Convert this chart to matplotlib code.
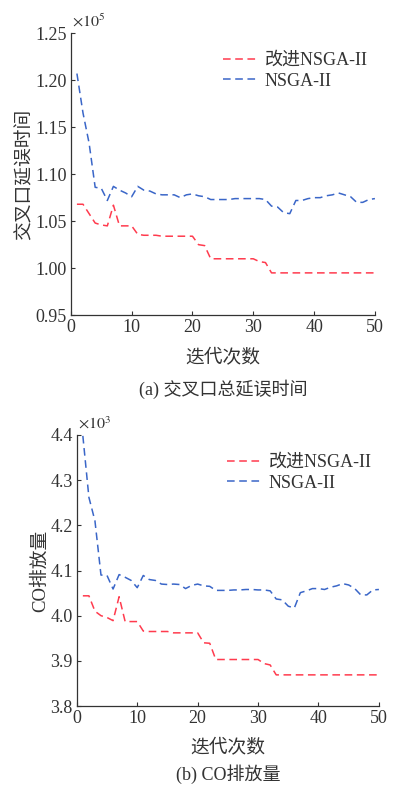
import matplotlib.pyplot as plt

plt.rcParams['font.family'] = ['Liberation Serif', 'Noto Sans CJK SC']
plt.rcParams['mathtext.fontset'] = 'stix'

iters = list(range(1, 51))

# 交叉口总延误时间 (x1e5)
delay_improved = [1.068, 1.068, 1.058, 1.048, 1.046, 1.045, 1.067, 1.045, 1.045, 1.045,
                  1.036, 1.035, 1.035, 1.035, 1.034, 1.034, 1.034, 1.034, 1.034, 1.034,
                  1.025, 1.024, 1.010, 1.010, 1.010, 1.010, 1.010, 1.010, 1.010, 1.010,
                  1.007, 1.006, 0.995, 0.995, 0.995, 0.995, 0.995, 0.995, 0.995, 0.995,
                  0.995, 0.995, 0.995, 0.995, 0.995, 0.995, 0.995, 0.995, 0.995, 0.995]
delay_nsga = [1.207, 1.165, 1.133, 1.086, 1.085, 1.072, 1.087, 1.083, 1.080, 1.076,
              1.087, 1.083, 1.082, 1.079, 1.078, 1.078, 1.078, 1.075, 1.078, 1.079,
              1.077, 1.076, 1.073, 1.073, 1.073, 1.073, 1.074, 1.074, 1.074, 1.074,
              1.074, 1.073, 1.066, 1.065, 1.059, 1.058, 1.072, 1.072, 1.074, 1.075,
              1.075, 1.077, 1.078, 1.080, 1.078, 1.076, 1.070, 1.070, 1.073, 1.074]

# CO排放量 (x1e3)
co_improved = [4.044, 4.044, 4.010, 4.000, 3.996, 3.989, 4.042, 3.987, 3.987, 3.987,
               3.966, 3.965, 3.965, 3.965, 3.965, 3.962, 3.962, 3.962, 3.962, 3.962,
               3.940, 3.939, 3.903, 3.903, 3.903, 3.903, 3.903, 3.903, 3.903, 3.903,
               3.894, 3.891, 3.869, 3.869, 3.869, 3.869, 3.869, 3.869, 3.869, 3.869,
               3.869, 3.869, 3.869, 3.869, 3.869, 3.869, 3.869, 3.869, 3.869, 3.869]
co_nsga = [4.398, 4.262, 4.210, 4.090, 4.089, 4.059, 4.091, 4.085, 4.078, 4.062,
           4.089, 4.080, 4.078, 4.070, 4.069, 4.070, 4.069, 4.060, 4.067, 4.070,
           4.066, 4.065, 4.056, 4.056, 4.056, 4.057, 4.057, 4.058, 4.058, 4.057,
           4.057, 4.055, 4.037, 4.035, 4.021, 4.017, 4.051, 4.055, 4.060, 4.060,
           4.058, 4.063, 4.066, 4.071, 4.068, 4.060, 4.046, 4.046, 4.057, 4.058]

red = '#ff3b4e'
blue = '#3a66c8'
gray = '#333333'

fig = plt.figure(figsize=(3.98, 7.88), dpi=100)
ax1 = fig.add_axes([0.178, 0.600, 0.764, 0.358])
ax2 = fig.add_axes([0.193, 0.104, 0.759, 0.344])


def style(ax, yticks, ylim, exp, ylabel, caption, cap_y):
    for s in ['top', 'right']:
        ax.spines[s].set_visible(False)
    for s in ['left', 'bottom']:
        ax.spines[s].set_color(gray)
        ax.spines[s].set_linewidth(0.9)
    ax.set_xlim(0, 50)
    ax.set_ylim(*ylim)
    ax.set_xticks([0, 10, 20, 30, 40, 50])
    ax.set_yticks(yticks)
    ax.tick_params(direction='in', length=3, colors=gray, labelsize=13, pad=3)
    ax.set_xlabel('迭代次数', fontsize=13.5, color=gray, labelpad=9)
    ax.set_ylabel(ylabel, fontsize=13.5, color=gray, labelpad=1)
    ax.text(0.005, 1.01, r'$\times10^{%d}$' % exp, transform=ax.transAxes,
            fontsize=11.5, color=gray, ha='left', va='bottom')
    ax.text(0.5, cap_y, caption, transform=ax.transAxes, fontsize=13,
            color=gray, ha='center', va='center')
    ax.legend(loc='upper right', bbox_to_anchor=(1.03, 0.99), frameon=False,
              fontsize=13, handlelength=2.0, handletextpad=0.3,
              labelspacing=0.2, labelcolor=gray)


ax1.plot(iters, delay_improved, '--', color=red, lw=1.1, dashes=(5, 3), label='改进NSGA-II')
ax1.plot(iters, delay_nsga, '--', color=blue, lw=1.1, dashes=(5, 3), label='NSGA-II')
style(ax1, [0.95, 1.00, 1.05, 1.10, 1.15, 1.20, 1.25], (0.95, 1.25), 5,
      '交叉口延误时间', '(a) 交叉口总延误时间', -0.262)
ax1.set_yticklabels(['0.95', '1.00', '1.05', '1.10', '1.15', '1.20', '1.25'])

ax2.plot(iters, co_improved, '--', color=red, lw=1.1, dashes=(5, 3), label='改进NSGA-II')
ax2.plot(iters, co_nsga, '--', color=blue, lw=1.1, dashes=(5, 3), label='NSGA-II')
style(ax2, [3.8, 3.9, 4.0, 4.1, 4.2, 4.3, 4.4], (3.8, 4.4), 3,
      'CO排放量', '(b) CO排放量', -0.252)
ax2.set_yticklabels(['3.8', '3.9', '4.0', '4.1', '4.2', '4.3', '4.4'])

fig.savefig('out.png', dpi=100)
